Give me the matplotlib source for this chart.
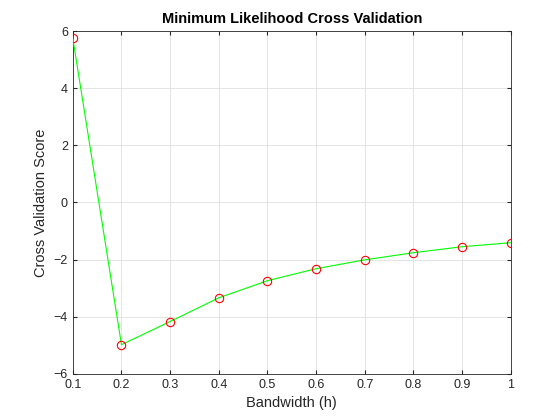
import matplotlib
matplotlib.use("Agg")
import matplotlib.pyplot as plt

plt.rcParams["font.family"] = ["Liberation Sans", "DejaVu Sans"]

bandwidth = [0.1, 0.2, 0.3, 0.4, 0.5, 0.6, 0.7, 0.8, 0.9, 1.0]
cv_score = [5.75, -4.98, -4.17, -3.34, -2.74, -2.32, -2.01, -1.76, -1.55, -1.41]

fig = plt.figure(figsize=(5.6, 4.2), dpi=100)
fig.patch.set_facecolor("white")
ax = fig.add_axes([0.130, 0.110, 0.782, 0.816])

ax.plot(bandwidth, cv_score, color="#00FF00", linewidth=0.8, zorder=3)
ax.plot(bandwidth, cv_score, linestyle="none", marker="o", markersize=6,
        markerfacecolor="none", markeredgecolor="red", markeredgewidth=0.8, zorder=4)

ax.set_xlim(0.1, 1)
ax.set_ylim(-6, 6)
ax.set_xticks([0.1, 0.2, 0.3, 0.4, 0.5, 0.6, 0.7, 0.8, 0.9, 1])
ax.set_xticklabels(["0.1", "0.2", "0.3", "0.4", "0.5", "0.6", "0.7", "0.8", "0.9", "1"])
ax.set_yticks([-6, -4, -2, 0, 2, 4, 6])
ax.grid(True, color="#DFDFDF", linewidth=0.6)
ax.set_axisbelow(True)
ax.tick_params(direction="in", labelsize=9, top=True, right=True, length=3,
               color="#262626", labelcolor="#262626")
for s in ax.spines.values():
    s.set_color("#262626")
    s.set_linewidth(0.6)

ax.set_title("Minimum Likelihood Cross Validation", fontsize=10.5, fontweight="bold", pad=6)
ax.set_xlabel("Bandwidth (h)", fontsize=10.5, color="#262626")
ax.set_ylabel("Cross Validation Score", fontsize=10.5, color="#262626")

fig.savefig("out.png", dpi=100, facecolor="white")
